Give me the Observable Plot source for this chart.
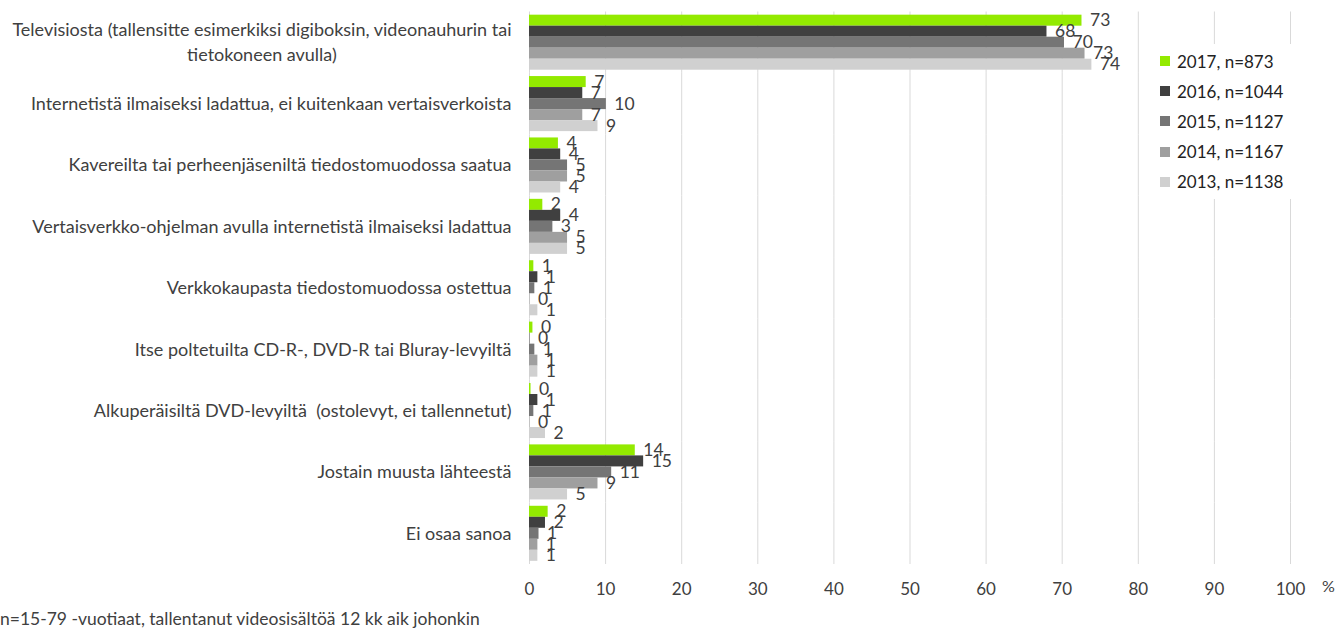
<!DOCTYPE html>
<html><head><meta charset="utf-8">
<script src="https://cdn.jsdelivr.net/npm/d3@7"></script>
<script src="https://cdn.jsdelivr.net/npm/@observablehq/plot@0.6"></script>
<style>
body{margin:0;background:#fff;font-family:Lato,sans-serif;}
#wrap{position:relative;width:1338px;height:628px;overflow:hidden;background:#fff}
#legend{position:absolute;left:1142px;top:44px;width:150px;background:#fff;padding:2px 0}
.li{display:flex;align-items:center;height:30.2px;font-size:17px;color:#222}
.sw{width:10px;height:10px;margin-left:18px;margin-right:7px}
#pct{position:absolute;left:1322px;top:576px;font-size:16px;color:#404040}
#note{position:absolute;left:0;top:608px;font-size:17.5px;color:#404040;white-space:nowrap}
</style></head><body><div id="wrap"></div>
<script>
const categories = [
  "Televisiosta (tallensitte esimerkiksi digiboksin, videonauhurin tai\ntietokoneen avulla)",
  "Internetistä ilmaiseksi ladattua, ei kuitenkaan vertaisverkoista",
  "Kavereilta tai perheenjäseniltä tiedostomuodossa saatua",
  "Vertaisverkko-ohjelman avulla internetistä ilmaiseksi ladattua",
  "Verkkokaupasta tiedostomuodossa ostettua",
  "Itse poltetuilta CD-R-, DVD-R tai Bluray-levyiltä",
  "Alkuperäisiltä DVD-levyiltä  (ostolevyt, ei tallennetut)",
  "Jostain muusta lähteestä",
  "Ei osaa sanoa"
];
const series = ["2017, n=873", "2016, n=1044", "2015, n=1127", "2014, n=1167", "2013, n=1138"];
const colors = ["#93EA00", "#404040", "#757575", "#9f9f9f", "#d0d0d0"];
const v2017 = [72.6, 7.45, 3.8, 1.75, 0.57, 0.45, 0.2, 13.9, 2.45];
const v2016 = [68.0, 7.0, 4.1, 4.1, 1.1, 0.05, 1.1, 15.0, 2.1];
const v2015 = [70.3, 10.1, 5.0, 3.07, 0.7, 0.7, 0.57, 10.8, 1.25];
const v2014 = [73.0, 7.0, 5.0, 5.0, 0.05, 1.1, 0.05, 9.0, 1.1];
const v2013 = [73.9, 9.0, 4.1, 5.0, 1.1, 1.1, 2.1, 5.0, 1.1];
const xTicks = [0, 10, 20, 30, 40, 50, 60, 70, 80, 90, 100];
const footnote = "n=15-79 -vuotiaat, tallentanut videosisältöä 12 kk aik johonkin";

const values = [v2017, v2016, v2015, v2014, v2013];
const rows = categories.flatMap((c, i) => series.map((s, j) => ({category: c, series: s, value: values[j][i]})));

const chart = Plot.plot({
  width: 1338, height: 600,
  marginLeft: 529, marginRight: 48, marginTop: 11.5, marginBottom: 36,
  style: {fontFamily: "Lato, sans-serif", fontSize: "16px", color: "#404040", background: "#fff"},
  x: {domain: [0, 100]},
  y: {domain: series, paddingInner: 0, paddingOuter: 0.288, round: false, axis: null},
  fy: {domain: categories, padding: 0, round: false, axis: null},
  color: {domain: series, range: colors},
  marks: [
    Plot.ruleX(xTicks, {stroke: "#d9d9d9", strokeWidth: 1, strokeOpacity: 1}),
    Plot.barX(rows, {x: "value", y: "series", fy: "category", fill: "series"}),
    Plot.text(rows, {x: "value", y: "series", fy: "category", text: d => d3.format(".0f")(d.value), textAnchor: "start", dx: 8, fontSize: 17.5, fill: "#404040"}),
    Plot.axisFy({anchor: "left", tickSize: 0, tickPadding: 18, dy: -2, label: null, fontSize: 18, lineHeight: 1.39, fill: "#404040"}),
    Plot.axisX(xTicks, {anchor: "bottom", tickSize: 0, tickPadding: 18, label: null, fontSize: 17, fill: "#404040"})
  ]
});

const wrap = document.getElementById("wrap");
wrap.appendChild(chart);

// center multi-line category labels (Excel style)
chart.querySelectorAll("text").forEach(t => {
  const spans = t.querySelectorAll("tspan");
  if (spans.length > 1) {
    let maxLen = 0;
    spans.forEach(s => { maxLen = Math.max(maxLen, s.getComputedTextLength()); });
    t.setAttribute("text-anchor", "middle");
    spans.forEach(s => s.setAttribute("x", -maxLen / 2));
  }
});

const legend = document.createElement("div");
legend.id = "legend";
series.forEach((s, j) => {
  const li = document.createElement("div");
  li.className = "li";
  const sw = document.createElement("span");
  sw.className = "sw"; sw.style.background = colors[j];
  li.appendChild(sw);
  li.appendChild(document.createTextNode(s));
  legend.appendChild(li);
});
wrap.appendChild(legend);

const pct = document.createElement("div");
pct.id = "pct"; pct.textContent = "%";
wrap.appendChild(pct);

const note = document.createElement("div");
note.id = "note"; note.textContent = footnote;
wrap.appendChild(note);
</script></body></html>
